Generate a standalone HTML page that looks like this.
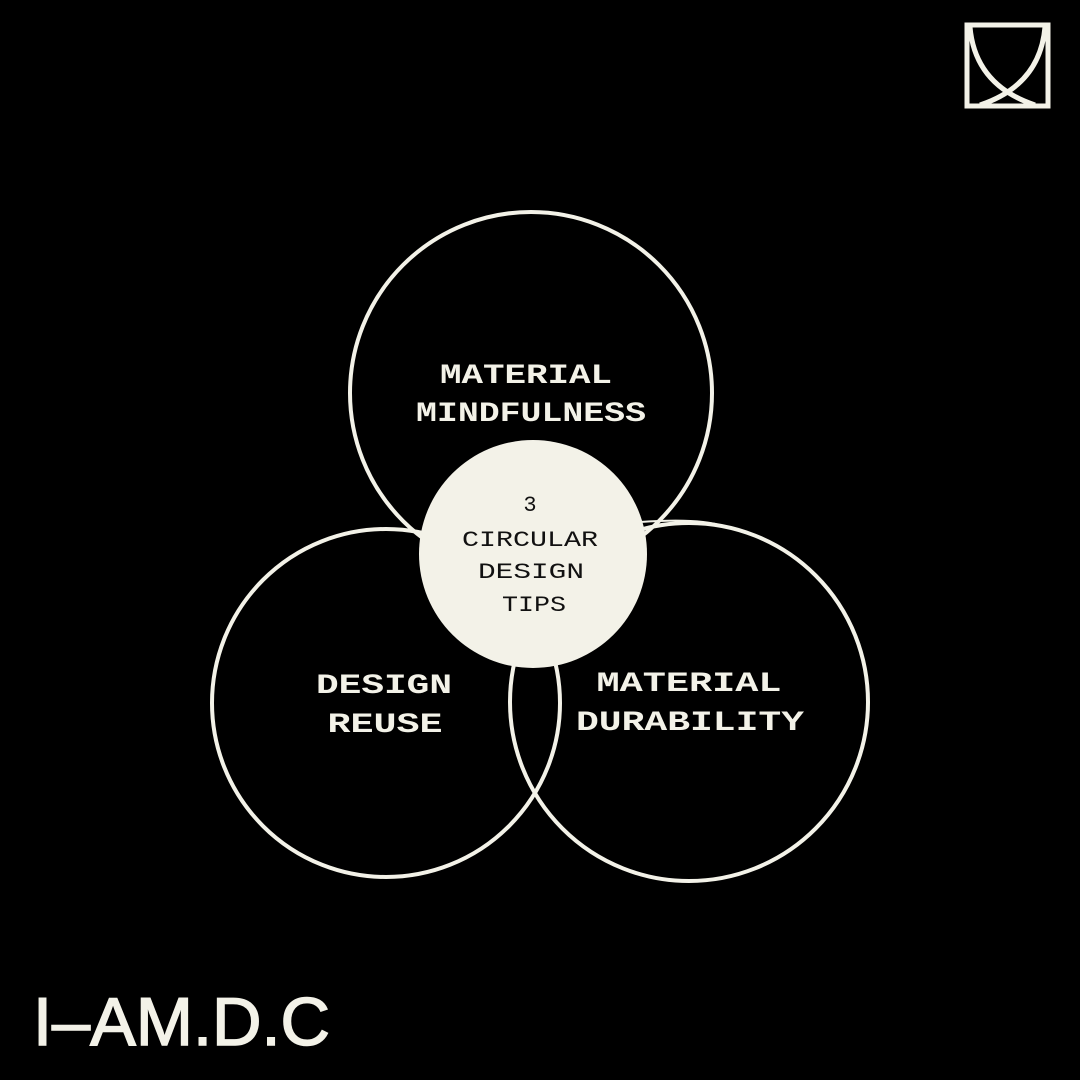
<!DOCTYPE html>
<html><head><style>
html,body{margin:0;padding:0;background:#000;}
svg{display:block;}
text{font-family:"Liberation Mono",monospace;}
</style></head><body>
<svg width="1080" height="1080" viewBox="0 0 1080 1080" xmlns="http://www.w3.org/2000/svg">
<rect width="1080" height="1080" fill="#000"/>
<g fill="none" stroke="#f3f2e8" stroke-width="4">
<circle cx="531" cy="393" r="181"/>
<circle cx="386" cy="703" r="174"/>
<circle cx="689" cy="702" r="179"/>
<path d="M640 522 Q700 518 722 526" stroke-width="2"/>
</g>
<circle cx="533" cy="554" r="114" fill="#f3f2e8"/>
<g fill="#f3f2e8" font-weight="bold" font-size="28" text-anchor="middle">
<text x="526" y="383" textLength="172" lengthAdjust="spacingAndGlyphs">MATERIAL</text>
<text x="531" y="421" textLength="230" lengthAdjust="spacingAndGlyphs">MINDFULNESS</text>
<text x="384" y="693" textLength="136" lengthAdjust="spacingAndGlyphs">DESIGN</text>
<text x="385" y="732" textLength="115" lengthAdjust="spacingAndGlyphs">REUSE</text>
<text x="689" y="691" textLength="185" lengthAdjust="spacingAndGlyphs">MATERIAL</text>
<text x="690" y="730" textLength="228" lengthAdjust="spacingAndGlyphs">DURABILITY</text>
</g>
<g fill="#111" font-size="22" text-anchor="middle">
<text x="530" y="511">3</text>
<text x="530" y="546" textLength="136" lengthAdjust="spacingAndGlyphs">CIRCULAR</text>
<text x="531" y="578" textLength="106" lengthAdjust="spacingAndGlyphs">DESIGN</text>
<text x="534" y="611" textLength="64" lengthAdjust="spacingAndGlyphs">TIPS</text>
</g>
<g fill="none" stroke="#f3f2e8" stroke-width="5">
<rect x="967" y="25" width="81" height="81"/>
<path d="M970 27 Q975 85 1035 105"/>
<path d="M1045 27 Q1040 85 980 105"/>
</g>
<text x="33" y="1045" fill="#f3f2e8" stroke="#f3f2e8" stroke-width="1.5" font-size="68" textLength="297" lengthAdjust="spacingAndGlyphs" style="font-family:'Liberation Sans',sans-serif">I–AM.D.C</text>
</svg>
</body></html>
